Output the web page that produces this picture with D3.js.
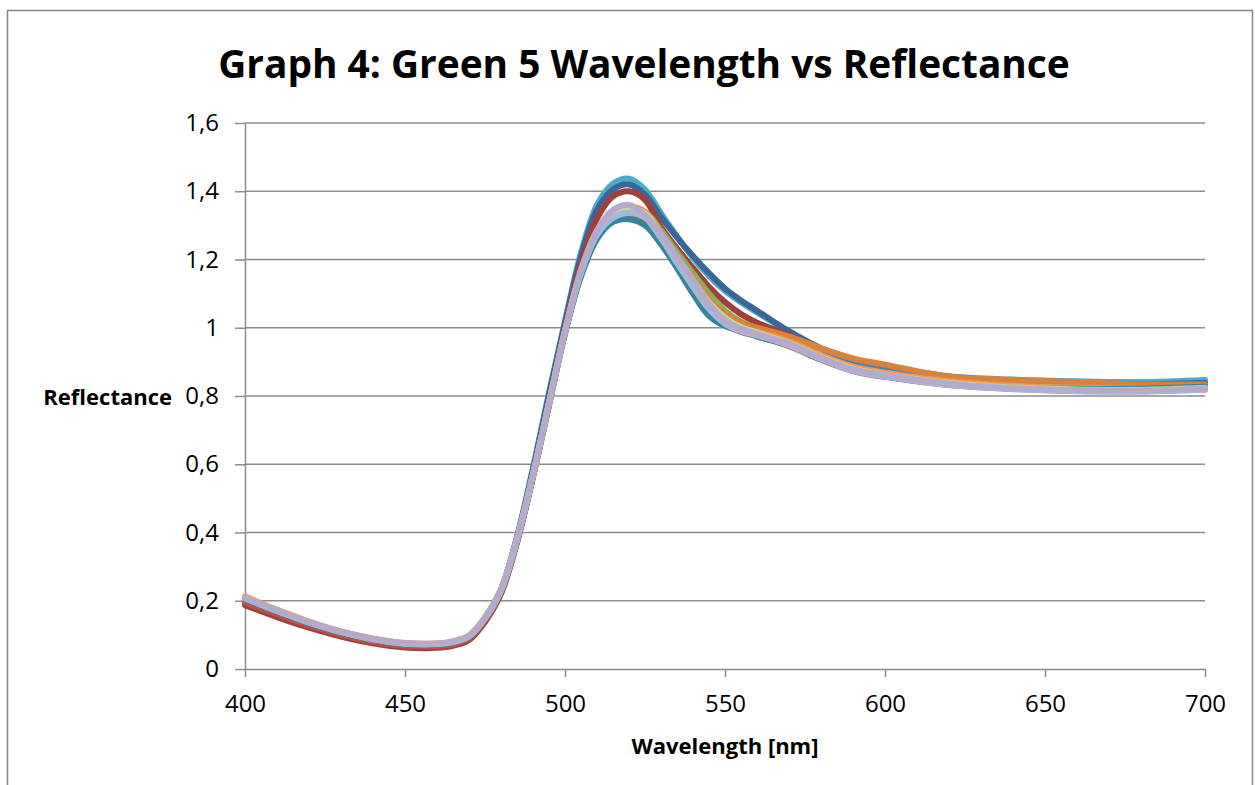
<!DOCTYPE html>
<html lang="en">
<head>
<meta charset="utf-8" />
<title>Graph 4: Green 5 Wavelength vs Reflectance</title>
<script src="https://d3js.org/d3.v7.min.js"></script>
<style>
  body { margin: 0; background: #fff; }
  text { font-family: "Open Sans", "DejaVu Sans", sans-serif; fill: #000; }
</style>
</head>
<body>
<script>
// wavelength samples [nm]
var wavelengths = [400,410,420,430,440,450,460,465,470,475,480,485,490,495,500,505,510,515,520,525,530,535,540,545,550,555,560,570,580,590,600,620,640,660,680,700];

var aqua      = [0.208,0.170,0.136,0.108,0.087,0.074,0.073,0.079,0.096,0.150,0.234,0.388,0.590,0.810,1.020,1.220,1.360,1.422,1.437,1.405,1.335,1.268,1.205,1.152,1.108,1.075,1.045,0.988,0.938,0.905,0.886,0.858,0.848,0.843,0.841,0.847];
var darkBlue  = [0.205,0.168,0.134,0.106,0.085,0.072,0.071,0.077,0.094,0.148,0.232,0.385,0.585,0.805,1.015,1.210,1.345,1.405,1.420,1.390,1.325,1.265,1.210,1.160,1.115,1.080,1.050,0.990,0.940,0.905,0.885,0.856,0.845,0.838,0.834,0.838];
var darkRed   = [0.187,0.152,0.121,0.095,0.075,0.063,0.062,0.068,0.085,0.138,0.220,0.370,0.565,0.785,1.000,1.190,1.320,1.385,1.400,1.375,1.295,1.232,1.175,1.120,1.075,1.040,1.015,0.978,0.932,0.898,0.878,0.848,0.838,0.832,0.829,0.832];
var blue      = [0.207,0.170,0.136,0.108,0.087,0.074,0.073,0.079,0.096,0.149,0.231,0.379,0.569,0.779,0.990,1.165,1.280,1.335,1.350,1.335,1.275,1.210,1.145,1.080,1.035,1.010,0.995,0.966,0.925,0.893,0.876,0.850,0.838,0.833,0.830,0.833];
var green     = [0.206,0.169,0.135,0.107,0.086,0.073,0.072,0.078,0.095,0.148,0.230,0.378,0.568,0.778,0.990,1.165,1.280,1.335,1.350,1.340,1.285,1.222,1.160,1.100,1.050,1.018,0.998,0.964,0.920,0.885,0.868,0.842,0.830,0.824,0.822,0.828];
var orange    = [0.208,0.171,0.137,0.109,0.088,0.075,0.074,0.080,0.097,0.150,0.232,0.380,0.570,0.780,0.990,1.165,1.280,1.335,1.350,1.335,1.275,1.210,1.145,1.082,1.040,1.015,1.000,0.975,0.940,0.910,0.892,0.857,0.847,0.841,0.834,0.834];
var lightOrng = [0.213,0.174,0.139,0.110,0.089,0.076,0.075,0.081,0.098,0.151,0.233,0.381,0.571,0.781,0.991,1.168,1.285,1.340,1.355,1.340,1.275,1.208,1.140,1.072,1.025,1.000,0.988,0.960,0.920,0.886,0.868,0.843,0.830,0.824,0.823,0.828];
var red       = [0.195,0.160,0.128,0.101,0.080,0.068,0.067,0.073,0.090,0.142,0.225,0.372,0.562,0.772,0.982,1.155,1.268,1.318,1.332,1.315,1.255,1.185,1.115,1.050,1.008,0.988,0.975,0.946,0.906,0.873,0.856,0.832,0.821,0.815,0.814,0.820];
var darkTeal  = [0.205,0.168,0.134,0.107,0.086,0.073,0.072,0.078,0.094,0.147,0.228,0.375,0.565,0.775,0.985,1.150,1.260,1.310,1.318,1.300,1.245,1.175,1.100,1.035,1.005,0.992,0.975,0.948,0.908,0.875,0.858,0.834,0.824,0.821,0.822,0.828];
var lightGrn  = [0.209,0.171,0.137,0.109,0.088,0.075,0.074,0.080,0.096,0.149,0.231,0.379,0.569,0.779,0.990,1.165,1.280,1.333,1.347,1.335,1.272,1.205,1.140,1.075,1.030,1.002,0.986,0.955,0.914,0.880,0.863,0.838,0.825,0.819,0.818,0.824];
var lightBlue = [0.207,0.170,0.136,0.108,0.087,0.074,0.073,0.079,0.095,0.148,0.230,0.378,0.568,0.778,0.988,1.160,1.272,1.322,1.336,1.322,1.262,1.190,1.120,1.055,1.012,0.990,0.978,0.948,0.908,0.874,0.857,0.832,0.820,0.814,0.813,0.818];
var lilac     = [0.210,0.172,0.138,0.110,0.089,0.076,0.075,0.081,0.097,0.150,0.232,0.380,0.570,0.780,0.990,1.170,1.285,1.345,1.360,1.330,1.275,1.210,1.140,1.070,1.022,0.996,0.982,0.952,0.912,0.878,0.862,0.836,0.823,0.817,0.816,0.822];

// drawing order: first one ends up at the back
var seriesList = [aqua, darkBlue, darkRed, blue, green, orange, lightOrng, red, darkTeal, lightGrn, lightBlue, lilac];
var seriesColors = ["#4BACC6","#3A679B","#A0403D","#4F81BD","#8DAF52","#D9823B","#F79646","#C0504D","#31859C","#C3D69B","#A3B9D8","#B5AACB"];

var xTicks = [400,450,500,550,600,650,700];
var yTicks = [0,0.2,0.4,0.6,0.8,1,1.2,1.4,1.6];

var w = 1255, h = 785;
var svg = d3.select("body").append("svg")
            .attr("width", w)
            .attr("height", h);

// chart frame
svg.append("rect")
   .attr("x", 7.5).attr("y", 10.5)
   .attr("width", 1245).attr("height", 800)
   .attr("fill", "none")
   .attr("stroke", "#878787")
   .attr("stroke-width", 1.5);

var x = d3.scaleLinear().domain([400,700]).range([245,1205]);
var y = d3.scaleLinear().domain([0,1.6]).range([669,123]);

var comma = d3.formatLocale({decimal: ",", thousands: ".", grouping: [3], currency: ["", ""]}).format("~g");

// horizontal gridlines
svg.append("g").selectAll("line")
   .data(yTicks.filter(function(d){ return d > 0; }))
   .enter().append("line")
   .attr("x1", x(400)).attr("x2", x(700))
   .attr("y1", function(d){ return y(d); })
   .attr("y2", function(d){ return y(d); })
   .attr("stroke", "#8c8c8c")
   .attr("stroke-width", 1.5);

var yAxis = svg.append("g")
   .attr("transform", "translate(" + x(400) + ",0)")
   .call(d3.axisLeft(y).tickValues(yTicks).tickFormat(comma).tickSizeInner(10).tickSizeOuter(0).tickPadding(16));

var xAxis = svg.append("g")
   .attr("transform", "translate(0," + y(0) + ")")
   .call(d3.axisBottom(x).tickValues(xTicks).tickFormat(d3.format("d")).tickSizeInner(8).tickSizeOuter(0).tickPadding(18));

[yAxis, xAxis].forEach(function(g){
  g.selectAll("path, line").attr("stroke", "#8c8c8c").attr("stroke-width", 1.5);
  g.selectAll("text").style("font-family", "'Open Sans', sans-serif").style("font-size", "24px").attr("fill", "#000");
});

// the curves
var line = d3.line()
   .x(function(d, i){ return x(wavelengths[i]); })
   .y(function(d){ return y(d); })
   .curve(d3.curveCatmullRom);

svg.append("g").selectAll("path")
   .data(seriesList)
   .enter().append("path")
   .attr("d", line)
   .attr("fill", "none")
   .attr("stroke", function(d, i){ return seriesColors[i]; })
   .attr("stroke-width", 6)
   .attr("stroke-linejoin", "round")
   .attr("stroke-linecap", "round");

// titles
var title = svg.append("text")
   .attr("x", 644).attr("y", 78)
   .attr("text-anchor", "middle")
   .style("font-weight", "bold")
   .style("font-size", "40px")
   .text("Graph 4: Green 5 Wavelength vs Reflectance");
var tw = title.node().getComputedTextLength();
title.style("font-size", (40 * 852 / tw) + "px");

svg.append("text")
   .attr("x", 172).attr("y", 405)
   .attr("text-anchor", "end")
   .style("font-weight", "bold")
   .style("font-size", "22px")
   .text("Reflectance");

svg.append("text")
   .attr("x", 725).attr("y", 754)
   .attr("text-anchor", "middle")
   .style("font-weight", "bold")
   .style("font-size", "22px")
   .text("Wavelength [nm]");
</script>
</body>
</html>
